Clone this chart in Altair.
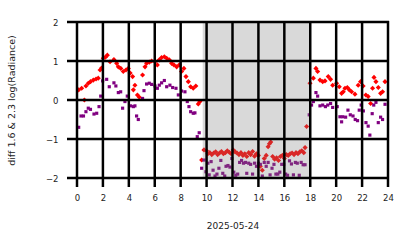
import altair as alt
import pandas as pd

# Red series (diff 1.6 um) : hour of day, value
red_h = [0.13, 0.36, 0.57, 0.69, 0.87, 1.04, 1.26, 1.47, 1.64, 1.78, 1.9, 2.03, 2.2, 2.34, 2.55, 2.85,
         3.06, 3.19, 3.38, 3.57, 3.78, 3.96, 4.1, 4.29, 4.35, 4.47, 4.66, 4.81, 5.06, 5.25, 5.37, 5.58,
         5.76, 6.02, 6.2, 6.35, 6.53, 6.74, 6.92, 7.12, 7.3, 7.48, 7.69, 7.89, 8.07, 8.25, 8.41, 8.59,
         8.77, 8.97, 9.17, 9.36, 9.49, 9.62, 9.8,
         10.0, 10.1, 10.25, 10.4, 10.55, 10.7, 10.85, 11.0, 11.15, 11.3, 11.45, 11.6, 11.75, 11.9,
         12.05, 12.2, 12.35, 12.5, 12.65, 12.8, 12.95, 13.1, 13.25, 13.4, 13.55, 13.7, 13.85, 14.0,
         14.15, 14.3, 14.45, 14.6, 14.75, 14.85, 14.95, 15.1, 15.25, 15.4, 15.55, 15.7, 15.85, 16.0,
         16.15, 16.3, 16.45, 16.6, 16.75, 16.9, 17.05, 17.2, 17.35, 17.5, 17.6, 17.72,
         17.98, 18.24, 18.44, 18.57, 18.75, 18.96, 19.14, 19.39, 19.57, 19.73, 20.03, 20.24, 20.42,
         20.55, 20.68, 20.86, 21.01, 21.19, 21.45, 21.7, 21.88, 22.08, 22.29, 22.47, 22.66, 22.81,
         22.92, 23.07, 23.25, 23.43, 23.58, 23.77]
red_v = [0.26, 0.30, 0.0, 0.36, 0.43, 0.47, 0.51, 0.54, 0.56, 0.77, 0.82, 1.07, 1.1, 1.15, 0.98, 1.04,
         0.94, 0.85, 0.81, 0.73, 0.77, 0.81, 0.69, 0.6, 0.26, 0.38, 0.13, 0.07, 0.64, 0.85, 0.94, 0.97,
         1.0, 0.98, 0.9, 1.03, 1.09, 1.11, 1.07, 1.03, 0.94, 0.9, 0.85, 0.9, 0.73, 0.81, 0.6, 0.47,
         0.34, 0.3, 0.36, -0.1, -0.04, -1.54, -1.28,
         -1.3, -1.38, -1.35, -1.4, -1.36, -1.33, -1.4, -1.36, -1.32, -1.38, -1.35, -1.3, -1.34, -1.38,
         -1.28, -1.33, -1.36, -1.4, -1.35, -1.42, -1.38, -1.45, -1.35, -1.4, -1.32, -1.44, -1.38, -1.42,
         -1.7, -1.8, -1.5, -1.42, -1.2, -1.12, -1.08, -1.45, -1.52, -1.48, -1.55, -1.45, -1.42, -1.5,
         -1.4, -1.42, -1.38, -1.36, -1.4, -1.35, -1.38, -1.33, -1.3, -1.35, -1.22, -0.68,
         0.43, 0.56, 0.81, 0.73, 0.51, 0.47, 0.49, 0.6, 0.53, 0.38, 0.43, 0.34, 0.17,
         0.21, 0.3, 0.32, 0.26, 0.21, 0.15, 0.38, 0.47, 0.36, 0.13, 0.09, -0.09, 0.3,
         0.58, 0.47, 0.32, 0.17, 0.21, 0.47]

# Purple series (diff 2.3 um)
pur_h = [0.13, 0.31, 0.5, 0.69, 0.87, 1.04, 1.31, 1.52, 1.7, 1.83, 1.98, 2.29, 2.49, 2.85, 3.0, 3.19,
         3.37, 3.52, 3.7, 3.88, 4.14, 4.35, 4.47, 4.6, 4.73, 5.06, 5.17, 5.37, 5.58, 5.76, 6.02, 6.2,
         6.35, 6.53, 6.74, 6.92, 7.17, 7.38, 7.64, 7.82, 8.07, 8.33, 8.51, 8.64, 8.77, 8.97, 9.1, 9.28,
         9.43, 9.62, 9.8, 9.95,
         10.1, 10.2, 10.35, 10.5, 10.65, 10.8, 10.95, 11.1, 11.25, 11.4, 11.5, 11.65, 11.8, 11.95,
         12.1, 12.25, 12.4, 12.55, 12.7, 12.85, 13.0, 13.1, 13.25, 13.4, 13.55, 13.7, 13.85, 14.0,
         14.15, 14.3, 14.45, 14.6, 14.75, 14.9, 15.05, 15.2, 15.35, 15.5, 15.65, 15.8, 15.95, 16.1,
         16.25, 16.4, 16.55, 16.7, 16.85, 17.0, 17.15, 17.3, 17.45, 17.6, 17.92,
         18.1, 18.24, 18.44, 18.57, 18.75, 18.96, 19.17, 19.35, 19.57, 19.73, 20.08, 20.29, 20.42,
         20.5, 20.73, 20.91, 21.09, 21.3, 21.47, 21.65, 21.78, 21.93, 22.1, 22.3, 22.47, 22.6, 22.78,
         22.9, 23.07, 23.25, 23.43, 23.58, 23.77]
pur_v = [-0.7, -0.41, -0.41, -0.3, -0.21, -0.24, -0.36, -0.34, -0.17, 0.1, 0.49, 0.53, 0.34, 0.44, 0.36, 0.19,
         0.21, -0.21, -0.04, 0.1, -0.15, -0.17, -0.15, -0.41, -0.5, 0.04, 0.24, 0.41, 0.43, 0.4, 0.36, 0.3,
         0.38, 0.44, 0.5, 0.34, 0.38, 0.32, 0.3, 0.13, 0.23, 0.21, -0.04, -0.17, -0.3, -0.34, -0.33, -0.94,
         -0.84, -1.75, -1.54, -1.84,
         -1.62, -1.92, -1.58, -1.8, -1.95, -1.9, -1.75, -1.55, -1.88, -1.95, -1.7, -1.68, -1.72, -1.5,
         -1.85, -1.93, -1.9, -1.6, -1.55, -1.62, -1.6, -1.88, -1.62, -1.65, -1.9, -1.62, -1.7, -1.62,
         -1.65, -1.95, -1.6, -1.7, -1.6, -1.92, -1.75, -1.65, -1.9, -1.9, -1.85, -1.65, -1.65, -1.9,
         -1.93, -1.56, -1.64, -1.92, -1.6, -1.62, -1.93, -1.6, -1.66, -1.66, -0.38,
         -0.13, -0.04, 0.19, 0.1, -0.15, -0.13, -0.17, -0.13, -0.09, -0.19, -0.17, -0.43, -0.56,
         -0.43, -0.44, -0.26, -0.38, -0.41, -0.5, -0.53, -0.26, -0.13, -0.28, -0.58, -0.67, -0.9, -0.35,
         -0.13, -0.06, -0.58, -0.44, -0.5, -0.11]

night_start = [9.7]
night_end = [17.95]
x_ticks = list(range(0, 25, 2))
y_ticks = [-2, -1, 0, 1, 2]

# One shared table, split into layers by "kind"
rows = []
rows += [{"kind": "red", "h": a, "h2": a, "v": b} for a, b in zip(red_h, red_v)]
rows += [{"kind": "pur", "h": a, "h2": a, "v": b} for a, b in zip(pur_h, pur_v)]
rows += [{"kind": "night", "h": a, "h2": b, "v": 0.0} for a, b in zip(night_start, night_end)]
rows += [{"kind": "gx", "h": t, "h2": t, "v": 0.0} for t in x_ticks]
rows += [{"kind": "gy", "h": 0.0, "h2": 0.0, "v": t} for t in y_ticks]
df = pd.DataFrame(rows)

xs = alt.Scale(domain=[0, 24], nice=False, zero=False)
ys = alt.Scale(domain=[-2, 2], nice=False, zero=False)

common = dict(format="d", labelOverlap=False, labelFlush=False, grid=False, ticks=False, domain=False,
              labelFont="DejaVu Sans", labelFontSize=8.5, labelColor="#222222",
              titleFont="DejaVu Sans", titleColor="#222222", titleFontWeight="normal")
xax = alt.Axis(values=x_ticks, title="2025-05-24", titleFontSize=9, titlePadding=20, labelPadding=15,
               **common)
yax = alt.Axis(values=y_ticks, title="diff 1.6 & 2.3  log(Radiance)", titleFontSize=9.5,
               titlePadding=29, labelPadding=19, **common)

base = alt.Chart(df)

red = base.transform_filter(alt.datum.kind == "red").mark_point(
    shape="diamond", filled=True, size=26, color="red", opacity=1).encode(
    x=alt.X("h:Q", scale=xs, axis=xax),
    y=alt.Y("v:Q", scale=ys, axis=yax),
)
pur = base.transform_filter(alt.datum.kind == "pur").mark_point(
    shape="square", filled=True, size=10, color="purple", opacity=1).encode(
    x=alt.X("h:Q", scale=xs, axis=xax),
    y=alt.Y("v:Q", scale=ys, axis=yax),
)
shade = base.transform_filter(alt.datum.kind == "night").mark_rect(color="gray", opacity=0.3).encode(
    x=alt.X("h:Q", scale=xs, axis=xax),
    x2="h2:Q",
    y=alt.value(0),
    y2=alt.value(156),
)
# grid lines as thin bars (2.5 px wide) that run past the plot edge like ticks
vgrid = base.transform_filter(alt.datum.kind == "gx").transform_calculate(
    xa="datum.h - 0.096", xb="datum.h + 0.096").mark_rect(color="black").encode(
    x=alt.X("xa:Q", scale=xs, axis=xax),
    x2="xb:Q",
    y=alt.value(-1),
    y2=alt.value(165),
)
hgrid = base.transform_filter(alt.datum.kind == "gy").transform_calculate(
    ya="datum.v - 0.032", yb="datum.v + 0.032").mark_rect(color="black").encode(
    y=alt.Y("ya:Q", scale=ys, axis=yax),
    y2="yb:Q",
    x=alt.value(-10),
    x2=alt.value(312),
)

chart = alt.layer(red, pur, shade, vgrid, hgrid).properties(
    width=311, height=156, autosize="none",
    padding={"left": 77, "top": 22, "right": 26, "bottom": 70},
).configure_view(stroke=None)

chart.save("out.html", embed_options={"renderer": "svg", "actions": False})
